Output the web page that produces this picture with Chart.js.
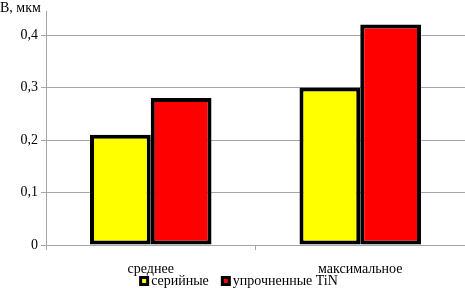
<!DOCTYPE html>
<html>
<head>
<meta charset="utf-8">
<script src="https://cdn.jsdelivr.net/npm/chart.js@4"></script>
<style>
  html, body { margin: 0; padding: 0; background: #fff; }
  #wrap { width: 465px; height: 288px; }
  .preload { font-family: "Liberation Serif"; position: absolute; left: -999px; }
</style>
</head>
<body>
<span class="preload">среднее TiN</span>
<div id="wrap"><canvas id="chart"></canvas></div>
<script>
// data
const categories = ['среднее', 'максимальное'];
const serialValues = [0.21, 0.30];
const tinValues = [0.28, 0.42];
const seriesNames = ['серийные', 'упрочненные TiN'];
const yTicks = [0, 0.1, 0.2, 0.3, 0.4];
const yTitle = 'B, мкм';

const FONT = '"Liberation Serif", "Times New Roman", serif';
const FSIZE = 14;

// axis title in the top left corner + small legend under the axis labels
const extras = {
  id: 'extras',
  afterDraw(chart) {
    const ctx = chart.ctx;
    ctx.save();
    ctx.font = FSIZE + 'px ' + FONT;
    ctx.fillStyle = '#000';
    ctx.textBaseline = 'middle';
    ctx.textAlign = 'left';
    ctx.fillText(yTitle, 0, 8);

    // legend
    const items = chart.data.datasets.map(d => ({ text: d.label, color: d.backgroundColor }));
    const gap = 12;
    let total = 0;
    items.forEach(it => { it.w = 12 + ctx.measureText(it.text).width; total += it.w; });
    total += gap * (items.length - 1);
    let x = (chart.width - total) / 2 + 6;
    const y = 281;
    items.forEach(it => {
      ctx.fillStyle = '#000';
      ctx.fillRect(x, y - 5, 10, 10);
      ctx.fillStyle = it.color;
      ctx.fillRect(x + 3, y - 2, 4, 4);
      ctx.fillStyle = '#000';
      ctx.fillText(it.text, x + 12, y);
      x += it.w + gap;
    });
    ctx.restore();
  }
};

new Chart(document.getElementById('chart'), {
  type: 'bar',
  data: {
    labels: categories,
    datasets: [
      {
        label: seriesNames[0],
        data: serialValues,
        backgroundColor: '#ffff00',
        borderColor: '#000',
        borderWidth: 4,
        borderSkipped: false
      },
      {
        label: seriesNames[1],
        data: tinValues,
        backgroundColor: '#ff0000',
        borderColor: '#000',
        borderWidth: 4,
        borderSkipped: false
      }
    ]
  },
  options: {
    responsive: true,
    maintainAspectRatio: false,
    animation: false,
    layout: { padding: { top: 7, right: 0, left: 0, bottom: 12 } },
    datasets: { bar: { barPercentage: 1, categoryPercentage: 0.58 } },
    plugins: {
      tooltip: { enabled: false },
      legend: { display: false }
    },
    scales: {
      x: {
        afterFit(scale) { scale.height = 31; },
        grid: { drawOnChartArea: false, offset: true, tickLength: 5, color: '#a6a6a6' },
        border: { color: '#a6a6a6' },
        ticks: { color: '#000', font: { family: FONT, size: FSIZE }, padding: 11 }
      },
      y: {
        min: 0,
        max: 0.445,
        afterBuildTicks(scale) {
          scale.ticks = yTicks.map(v => ({ value: v }));
        },
        afterFit(scale) { scale.width = 46; },
        grid: { color: '#a6a6a6', tickLength: 5 },
        border: { color: '#a6a6a6' },
        ticks: {
          color: '#000',
          padding: 3,
          font: { family: FONT, size: FSIZE },
          callback: v => String(Math.round(v * 10) / 10).replace('.', ',')
        }
      }
    }
  },
  plugins: [extras]
});
</script>
</body>
</html>
